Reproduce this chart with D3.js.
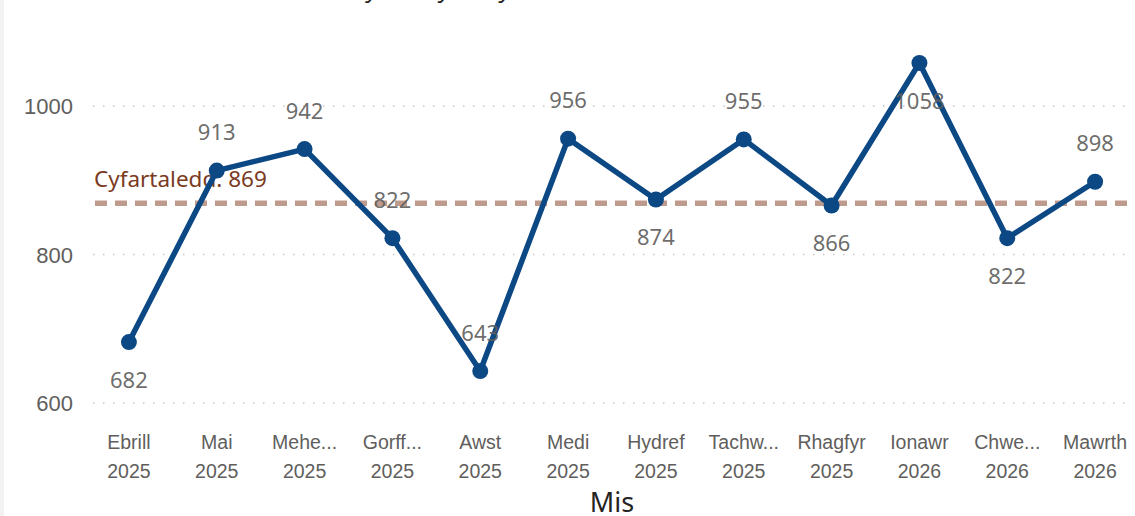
<!DOCTYPE html>
<html>
<head>
<meta charset="utf-8">
<script src="https://cdn.jsdelivr.net/npm/d3@7"></script>
<style>
  html, body { margin: 0; padding: 0; background: #fff; }
  svg { display: block; font-family: "Segoe UI", "Noto Sans", "Open Sans", sans-serif; }
</style>
</head>
<body>
<svg id="chart" width="1135" height="516"></svg>
<script>
// ---- data ----
const months = ["Ebrill", "Mai", "Mehe...", "Gorff...", "Awst", "Medi", "Hydref", "Tachw...", "Rhagfyr", "Ionawr", "Chwe...", "Mawrth"];
const years = ["2025", "2025", "2025", "2025", "2025", "2025", "2025", "2025", "2025", "2026", "2026", "2026"];
const values = [682, 913, 942, 822, 643, 956, 874, 955, 866, 1058, 822, 898];
const averageValue = 869;
const yTicks = [600, 800, 1000];
const averageLabel = "Cyfartaledd: " + averageValue;
const xTitle = "Mis";
const chartTitle = "Nifer y Defnyddwyr fesul Mis";

// ---- layout ----
const W = 1135, H = 516;
const svg = d3.select("#chart");
const plotTop = 40, plotBottom = 403;

svg.append("rect").attr("x", 0).attr("y", 0).attr("width", 4).attr("height", H).attr("fill", "#f2f2f2");

const x = d3.scaleBand().domain(d3.range(months.length)).range([85, 1139]).padding(0);
const y = d3.scaleLinear().domain([600, 1000]).range([403, 106]);
const cx = i => x(i) + x.bandwidth() / 2;

// title (cut off at top, as in the reference)
const title = svg.append("text")
  .attr("y", -3)
  .attr("font-size", 24)
  .attr("fill", "#252423")
  .text(chartTitle);
const off = title.node().getSubStringLength(0, 6);
title.attr("x", 365 - off);

// gridlines
const grid = svg.append("g");
yTicks.forEach(t => {
  grid.append("line")
    .attr("x1", 93).attr("x2", 1127)
    .attr("y1", y(t)).attr("y2", y(t))
    .attr("stroke", "#c8c6c4").attr("stroke-width", 1.3)
    .attr("stroke-dasharray", "1.5,8.5");
});

// y axis
const yAxis = d3.axisLeft(y).tickValues(yTicks).tickSize(0).tickPadding(0).tickFormat(d3.format("d"));
const yg = svg.append("g").attr("transform", "translate(73,0)").call(yAxis);
yg.select(".domain").remove();
yg.selectAll("text").attr("font-size", 22).attr("fill", "#605e5c").attr("font-family", null).attr("dy", "0.35em");

// x axis
const xAxis = d3.axisBottom(x).tickSize(0).tickFormat(() => "");
const xg = svg.append("g").call(xAxis);
xg.select(".domain").remove();
xg.selectAll(".tick").each(function(d) {
  const g = d3.select(this);
  g.select("text").remove();
  const t = g.append("text").attr("text-anchor", "middle").attr("fill", "#605e5c").attr("font-size", 19.5);
  t.append("tspan").attr("x", 0).attr("y", 449).text(months[d]);
  t.append("tspan").attr("x", 0).attr("y", 478).text(years[d]);
});

// x title
svg.append("text")
  .attr("x", 612).attr("y", 512)
  .attr("text-anchor", "middle")
  .attr("font-size", 27)
  .attr("fill", "#252423")
  .text(xTitle);

// average line
svg.append("line")
  .attr("x1", 95).attr("x2", 1127)
  .attr("y1", y(averageValue)).attr("y2", y(averageValue))
  .attr("stroke", "#bf9b8e").attr("stroke-width", 5.5)
  .attr("stroke-dasharray", "12,8");
svg.append("text")
  .attr("x", 94).attr("y", y(averageValue) - 16)
  .attr("font-size", 22.5)
  .attr("fill", "#7b3a22")
  .text(averageLabel);

// line
const line = d3.line().x((d, i) => cx(i)).y(d => y(d));
svg.append("path")
  .datum(values)
  .attr("d", line)
  .attr("fill", "none")
  .attr("stroke", "#0b4884")
  .attr("stroke-width", 5.5)
  .attr("stroke-linejoin", "round");

svg.selectAll("circle.pt")
  .data(values)
  .enter().append("circle")
  .attr("class", "pt")
  .attr("cx", (d, i) => cx(i))
  .attr("cy", d => y(d))
  .attr("r", 8)
  .attr("fill", "#0b4884");

// data labels
const labelOffset = 38, halfH = 11;
values.forEach((v, i) => {
  const prev = i > 0 ? values[i - 1] : Infinity;
  const next = i < values.length - 1 ? values[i + 1] : Infinity;
  const isMin = v < prev && v < next;
  let below = isMin;
  const py = y(v);
  let ly = below ? py + labelOffset : py - labelOffset;
  if (below && ly + halfH > plotBottom) { below = false; ly = py - labelOffset; }
  else if (!below && ly - halfH < plotTop) { below = true; ly = py + labelOffset; }
  svg.append("text")
    .attr("x", cx(i)).attr("y", ly)
    .attr("dy", "0.35em")
    .attr("text-anchor", "middle")
    .attr("font-size", 22)
    .attr("fill", "#605e5c")
    .attr("fill-opacity", 0.92)
    .text(v);
});
</script>
</body>
</html>
